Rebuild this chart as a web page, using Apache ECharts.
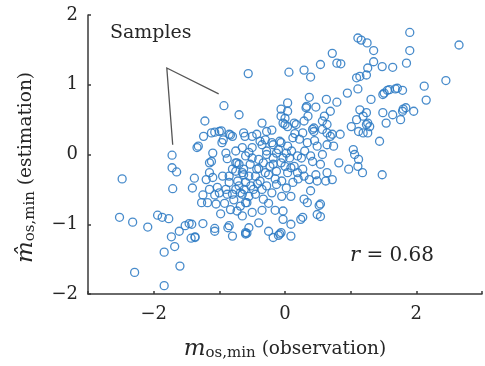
<!DOCTYPE html>
<html>
<head>
<meta charset="utf-8">
<script src="https://cdn.jsdelivr.net/npm/echarts@6/dist/echarts.min.js"></script>
<style>
html,body{margin:0;padding:0;background:#fff;}
#c{width:485px;height:366px;}
</style>
</head>
<body>
<div id="c"></div>
<script>
// Observed values (x) and estimated values (y) of the samples
const obsLeft = [-2.48,-2.52,-2.32,-2.09,-1.94,-1.87,-1.77,-2.29,-1.84,-1.60,-1.84,-1.68,-1.73,-1.61,-1.52,-1.46,-1.43,-1.37,-1.72,-1.72,-1.65,-1.71,-1.38,-1.41,-1.25,-1.27,-1.18,-1.05,-1.15,-1.07,-1.03,-1.20,-0.85,-0.80,-0.68,-0.60,-0.83,-1.25,-1.07,-0.87,-0.80,-0.60,-1.00,-0.90,-1.10,-0.88,-0.73,-0.65,-0.50,-0.40,-0.03,-0.03,-1.42,-0.85,-0.55,-0.60,-0.25,-0.18,-0.08,-1.37,-0.58,-0.10,-1.07];
const estLeft = [-0.35,-0.90,-0.97,-1.04,-0.87,-0.90,-0.92,-1.69,-1.88,-1.60,-1.40,-1.32,-1.18,-1.10,-1.02,-0.99,-1.20,-1.18,-0.01,-0.19,-0.25,-0.49,-0.34,-0.48,-0.58,-0.69,-0.69,-0.71,-0.50,-0.58,-0.47,-0.36,-0.40,-0.57,-0.74,-0.69,-0.79,-0.99,-1.06,-1.05,-1.17,-1.12,-0.55,-0.50,-0.33,-0.57,-0.81,-0.88,-0.83,-0.98,-0.81,-0.93,-1.00,-1.02,-1.05,-1.14,-1.10,-1.19,-1.14,-1.19,-1.13,-1.16,-1.10];

const obsMid = [-0.93,-0.70,-0.56,-1.22,-1.24,-1.12,-1.00,-0.94,-0.85,-0.96,-1.32,-0.61,-1.10,-1.15,-1.15,-0.73,-0.60,-0.80,-0.85,-0.65,-0.35,-0.43,-0.28,-0.06,-0.06,0.00,-0.38,-0.30,-0.50,-0.55,-0.90,-1.12,-0.88,-0.70,-0.63,-0.40,-0.28,-0.18,-0.10,-0.08,-0.23,-0.43,-0.55,-0.95,-0.03,-0.13,-0.63,-0.60,-0.45,-0.38,-0.25,-0.13,-0.65,-0.58,-0.45,-0.33,-0.75,-1.34,-1.07,-0.97,-0.83];
const estMid = [0.70,0.57,1.16,0.48,0.26,0.31,0.33,0.21,0.29,0.17,0.12,0.26,0.02,-0.12,-0.26,-0.12,-0.02,-0.21,-0.31,-0.26,0.45,0.29,0.33,0.65,0.55,0.43,0.19,0.21,0.10,0.03,0.02,-0.10,-0.06,-0.14,-0.21,-0.07,0.05,0.14,0.07,0.19,-0.17,-0.21,-0.31,-0.31,-0.05,-0.24,-0.29,-0.40,-0.31,-0.38,-0.29,-0.43,-0.57,-0.69,-0.57,-0.64,-0.24,0.10,0.32,0.34,0.28];

const obsRight = [1.11,1.16,1.25,1.35,0.72,0.79,0.85,0.54,0.29,0.06,0.39,1.35,1.48,1.26,1.24,1.14,1.09,0.95,1.11,1.31,1.49,0.63,0.37,0.79,0.04,0.47,0.32,0.69,1.14,1.24,1.49,0.00,0.29,0.57,1.09,0.44,1.01,1.29,0.04,0.14,1.90,1.90,1.85,1.64,2.65,2.45,2.12,2.15,1.51,1.59,1.71,1.79,1.84,1.79,1.96,1.64,1.76,1.54,1.19,1.26,1.19,1.44,1.04,1.06,1.11,1.18,1.48,0.97,0.82,0.64,0.33,0.04,0.17,0.27,0.44,0.57,0.84,0.69,0.74,0.64,0.49,0.34,0.22,0.12,0.04,-0.06,-0.20,-0.35,-0.50,-0.63,-0.80,0.57,0.39,0.19,0.02,-0.13,-0.28,-0.53,-0.75,-0.18,-0.06,0.14,0.27,0.42,0.54,0.64,0.47,0.29,0.04,-0.30,1.12,1.12,-0.03,0.42,0.64,0.72,1.24,1.26,1.56,1.68,1.80];
const estRight = [1.67,1.64,1.60,1.49,1.45,1.31,1.30,1.29,1.21,1.18,1.11,1.33,1.26,1.24,1.14,1.12,1.10,0.88,0.94,0.79,0.86,0.79,0.82,0.75,0.74,0.68,0.67,0.62,0.64,0.60,0.60,0.52,0.48,0.48,0.50,0.38,0.40,0.40,0.40,0.45,1.75,1.49,1.31,1.25,1.57,1.06,0.98,0.78,0.88,0.93,0.95,0.92,0.67,0.62,0.62,0.57,0.50,0.45,0.55,0.45,0.31,0.19,0.07,0.00,-0.17,-0.26,-0.29,-0.21,-0.12,0.43,0.69,0.62,0.43,0.31,0.33,0.36,0.29,0.26,0.12,0.14,0.12,0.17,0.22,0.24,0.12,0.17,0.17,0.14,0.26,0.31,0.26,0.00,-0.02,-0.02,0.02,0.02,0.00,-0.14,-0.12,-0.14,-0.12,-0.17,-0.21,-0.10,-0.14,-0.26,-0.29,-0.31,-0.26,-0.26,0.33,-0.07,0.45,0.36,0.31,0.29,0.43,0.31,0.92,0.94,0.65];

const obsLow = [0.07,0.00,0.09,0.19,0.37,0.49,0.62,0.72,0.12,0.02,0.09,0.29,0.39,0.52,0.24,0.54,0.09,-0.06,0.09,0.49,0.54,0.27,0.34];
const estLow = [-0.05,-0.17,-0.19,-0.26,-0.36,-0.38,-0.38,-0.36,-0.40,-0.48,-0.60,-0.64,-0.52,-0.73,-0.93,-0.89,-1.00,-1.12,-1.17,-0.86,-0.71,-0.90,-0.69];

const obsCore = [-0.70,-0.75,-0.68,-0.72,-0.52,-0.48,-0.42,-0.35,-0.28,-0.20,-0.15,-0.05,-0.78,-0.55,-0.25,-0.15,-0.35,-0.05,-0.62,-0.92,-0.98,-0.40,-0.18,0.10,0.30,-0.50,-0.33,-0.65,-0.75,0.20,0.25,0.45,0.15,-0.20,0.35,0.60];
const estCore = [-0.45,-0.50,-0.55,-0.38,-0.45,-0.50,-0.42,-0.50,-0.45,-0.55,-0.35,-0.38,-0.65,-0.60,-0.70,-0.80,-0.80,-0.60,-0.50,-0.70,-0.85,-0.20,-0.05,0.05,0.05,-0.05,-0.12,0.10,0.05,-0.35,-0.05,0.20,0.30,0.35,0.55,0.55];

const xTickLabels = {'-2':'\u22122','0':'0','2':'2'};
const yTickLabels = {'-2':'\u22122','-1':'\u22121','0':'0','1':'1','2':'2'};
const corrText = '0.68';

function pairs(xs, ys){ return xs.map((v,i)=>[v, ys[i]]); }
const samples = [].concat(
  pairs(obsLeft, estLeft), pairs(obsMid, estMid), pairs(obsRight, estRight),
  pairs(obsLow, estLow), pairs(obsCore, estCore));

const serif = '"DejaVu Serif","Liberation Serif",serif';
const ink = '#262626';
const chart = echarts.init(document.getElementById('c'), null, {renderer:'canvas'});
const option = {
  animation:false,
  backgroundColor:'#fff',
  grid:{left:88, top:15, right:-5, bottom:71, containLabel:false},
  xAxis:{
    type:'value', min:-3, max:3, interval:1,
    axisLine:{show:true, onZero:false, lineStyle:{color:'#3a3a3a', width:1.5}},
    axisTick:{show:true, inside:true, length:3, lineStyle:{color:'#3a3a3a', width:1.5}},
    splitLine:{show:false},
    axisLabel:{margin:11, color:ink, fontFamily:serif, fontSize:18,
      formatter:v=>xTickLabels[String(v)]||''},
    name:'{i|m}{s|os,min}{t| (observation)}',
    nameLocation:'middle', nameGap:43,
    nameTextStyle:{rich:{
      i:{fontFamily:serif, fontStyle:'italic', fontSize:23, color:ink},
      s:{fontFamily:serif, fontSize:15, color:ink, verticalAlign:'bottom', padding:[9,0,0,0]},
      t:{fontFamily:serif, fontSize:18.5, color:ink}
    }}
  },
  yAxis:{
    type:'value', min:-2, max:2, interval:1,
    axisLine:{show:true, onZero:false, lineStyle:{color:'#3a3a3a', width:1.5}},
    axisTick:{show:true, inside:true, length:3, lineStyle:{color:'#3a3a3a', width:1.5}},
    splitLine:{show:false},
    axisLabel:{margin:10, color:ink, fontFamily:serif, fontSize:18,
      formatter:v=>yTickLabels[String(v)]||''},
    name:'{i|m\u0302}{s|os,min}{t| (estimation)}',
    nameLocation:'middle', nameGap:50, nameRotate:90,
    nameTextStyle:{padding:[0,26,0,0], rich:{
      i:{fontFamily:serif, fontStyle:'italic', fontSize:23, color:ink},
      s:{fontFamily:serif, fontSize:15, color:ink, verticalAlign:'bottom', padding:[9,0,0,0]},
      t:{fontFamily:serif, fontSize:18.5, color:ink}
    }}
  },
  series:[{
    type:'scatter', data:samples, symbol:'circle', symbolSize:8,
    itemStyle:{color:'rgba(0,0,0,0)', borderColor:'#2e7bc4', borderWidth:1.3, opacity:0.88},
    emphasis:{disabled:true}
  }]
};
chart.setOption(option);

// annotation pointer (in data coordinates)
const apex = chart.convertToPixel({gridIndex:0}, [-1.80, 1.24]);
const end1 = chart.convertToPixel({gridIndex:0}, [-1.01, 0.87]);
const end2 = chart.convertToPixel({gridIndex:0}, [-1.71, 0.14]);
chart.setOption({graphic:[
  {type:'polyline', shape:{points:[end1, apex, end2]}, style:{stroke:'#555', lineWidth:1.3, fill:null}},
  {type:'text', left:110, top:24, style:{text:'Samples', font:'19px '+serif, fill:ink}},
  {type:'text', left:350, top:245, style:{
    text:'{i|r}{t| = '+corrText+'}',
    rich:{i:{fontFamily:serif, fontStyle:'italic', fontSize:21, fill:ink},
          t:{fontFamily:serif, fontSize:20, fill:ink}}}}
]});
</script>
</body>
</html>
